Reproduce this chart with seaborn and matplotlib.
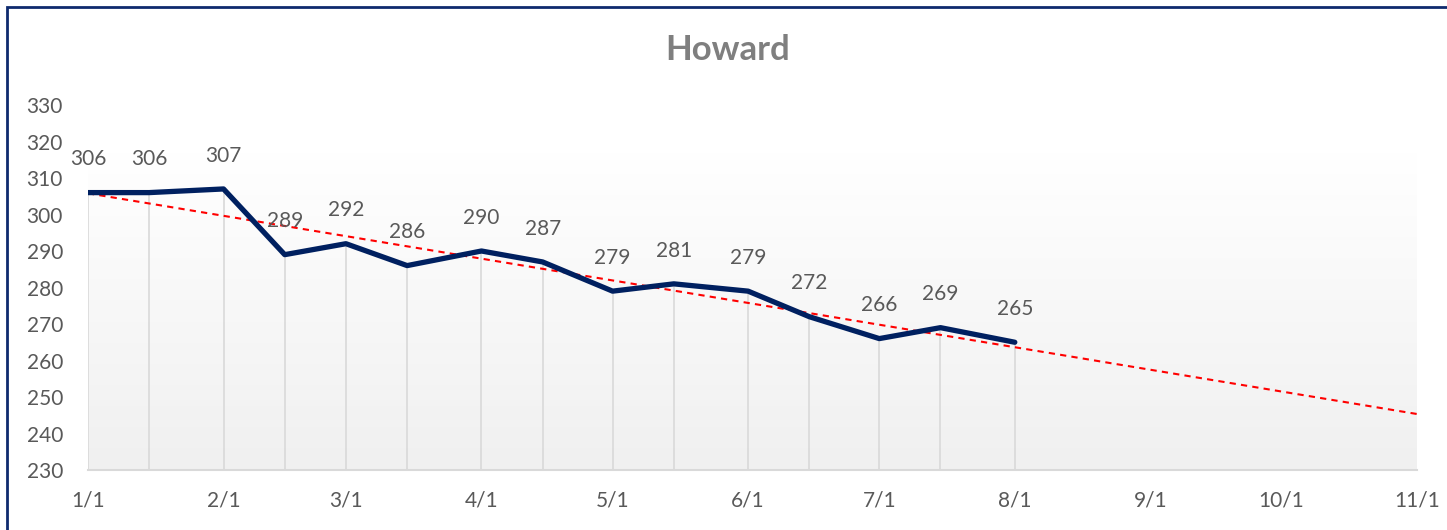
import numpy as np
import pandas as pd
import matplotlib
matplotlib.use("Agg")
import matplotlib.pyplot as plt
import matplotlib.dates as mdates
from matplotlib.patches import Rectangle
import seaborn as sns

# data
dates = ["2021-01-01", "2021-01-15", "2021-02-01", "2021-02-15", "2021-03-01",
         "2021-03-15", "2021-04-01", "2021-04-15", "2021-05-01", "2021-05-15",
         "2021-06-01", "2021-06-15", "2021-07-01", "2021-07-15", "2021-08-01"]
values = [306, 306, 307, 289, 292, 286, 290, 287, 279, 281, 279, 272, 266, 269, 265]
tick_dates = ["2021-01-01", "2021-02-01", "2021-03-01", "2021-04-01", "2021-05-01",
              "2021-06-01", "2021-07-01", "2021-08-01", "2021-09-01", "2021-10-01",
              "2021-11-01"]
tick_labels = ["1/1", "2/1", "3/1", "4/1", "5/1", "6/1", "7/1", "8/1", "9/1", "10/1", "11/1"]
title = "Howard"

df = pd.DataFrame({"date": pd.to_datetime(dates), "value": values})
ticks = pd.to_datetime(tick_dates)

sns.set_theme(style="white")
plt.rcParams["font.family"] = ["Lato", "DejaVu Sans"]

fig = plt.figure(figsize=(14.47, 5.3), dpi=100)
ax = fig.add_axes([88 / 1447, 1 - 470 / 530, (1417 - 88) / 1447, 365 / 530])

x0, x1 = mdates.date2num(ticks[0]), mdates.date2num(ticks[-1])

# gradient panel behind the series
grad = np.linspace(1.0, 0.0, 256).reshape(-1, 1)
ax.imshow(grad, extent=[x0, x1, 230, 317], aspect="auto", origin="upper",
          cmap=matplotlib.colors.LinearSegmentedColormap.from_list("g", ["#F0F0F0", "#FFFFFF"]),
          vmin=0, vmax=1, zorder=0)

# drop lines
ax.vlines(df["date"], 230, df["value"], color="#D9D9D9", lw=1.2, zorder=1)

# trend line (linear fit, forecast to 11/1)
xd = mdates.date2num(df["date"])
k, b = np.polyfit(xd, df["value"], 1)
xt = np.array([x0, x1])
ax.plot(mdates.num2date(xt), k * xt + b, color="#FF0000", lw=1.5, ls=(0, (3, 2.5)), zorder=3)

sns.lineplot(data=df, x="date", y="value", ax=ax, color="#002060", lw=3.8, zorder=4)

for d, v in zip(df["date"], df["value"]):
    ax.annotate(str(v), (d, v), xytext=(0, 24), textcoords="offset points",
                ha="center", va="center", fontsize=15, color="#595959", zorder=5)

ax.set_xlim(ticks[0], ticks[-1])
ax.set_ylim(230, 330)
ax.set_yticks(range(230, 331, 10))
ax.set_xticks(ticks)
ax.set_xticklabels(tick_labels)
ax.set_xlabel("")
ax.set_ylabel("")
ax.tick_params(axis="x", colors="#595959", labelsize=15, length=6, width=1.2,
               color="#D9D9D9", direction="out", pad=9)
ax.tick_params(axis="y", colors="#595959", labelsize=15, length=0, pad=18)
for s in ["top", "right", "left"]:
    ax.spines[s].set_visible(False)
ax.spines["bottom"].set_color("#D9D9D9")
ax.spines["bottom"].set_linewidth(1.5)
ax.set_facecolor("none")

fig.text(728 / 1447, 1 - 50 / 530, title, ha="center", va="center",
         fontsize=25, fontweight="bold", color="#7F7F7F")

# chart border
fig.patches.append(Rectangle((7 / 1447, -0.05), 1.2, 1 - 7 / 530 + 0.05,
                             transform=fig.transFigure, fill=False,
                             edgecolor="#0E2A6E", lw=2))

fig.savefig("out.png", dpi=100)
